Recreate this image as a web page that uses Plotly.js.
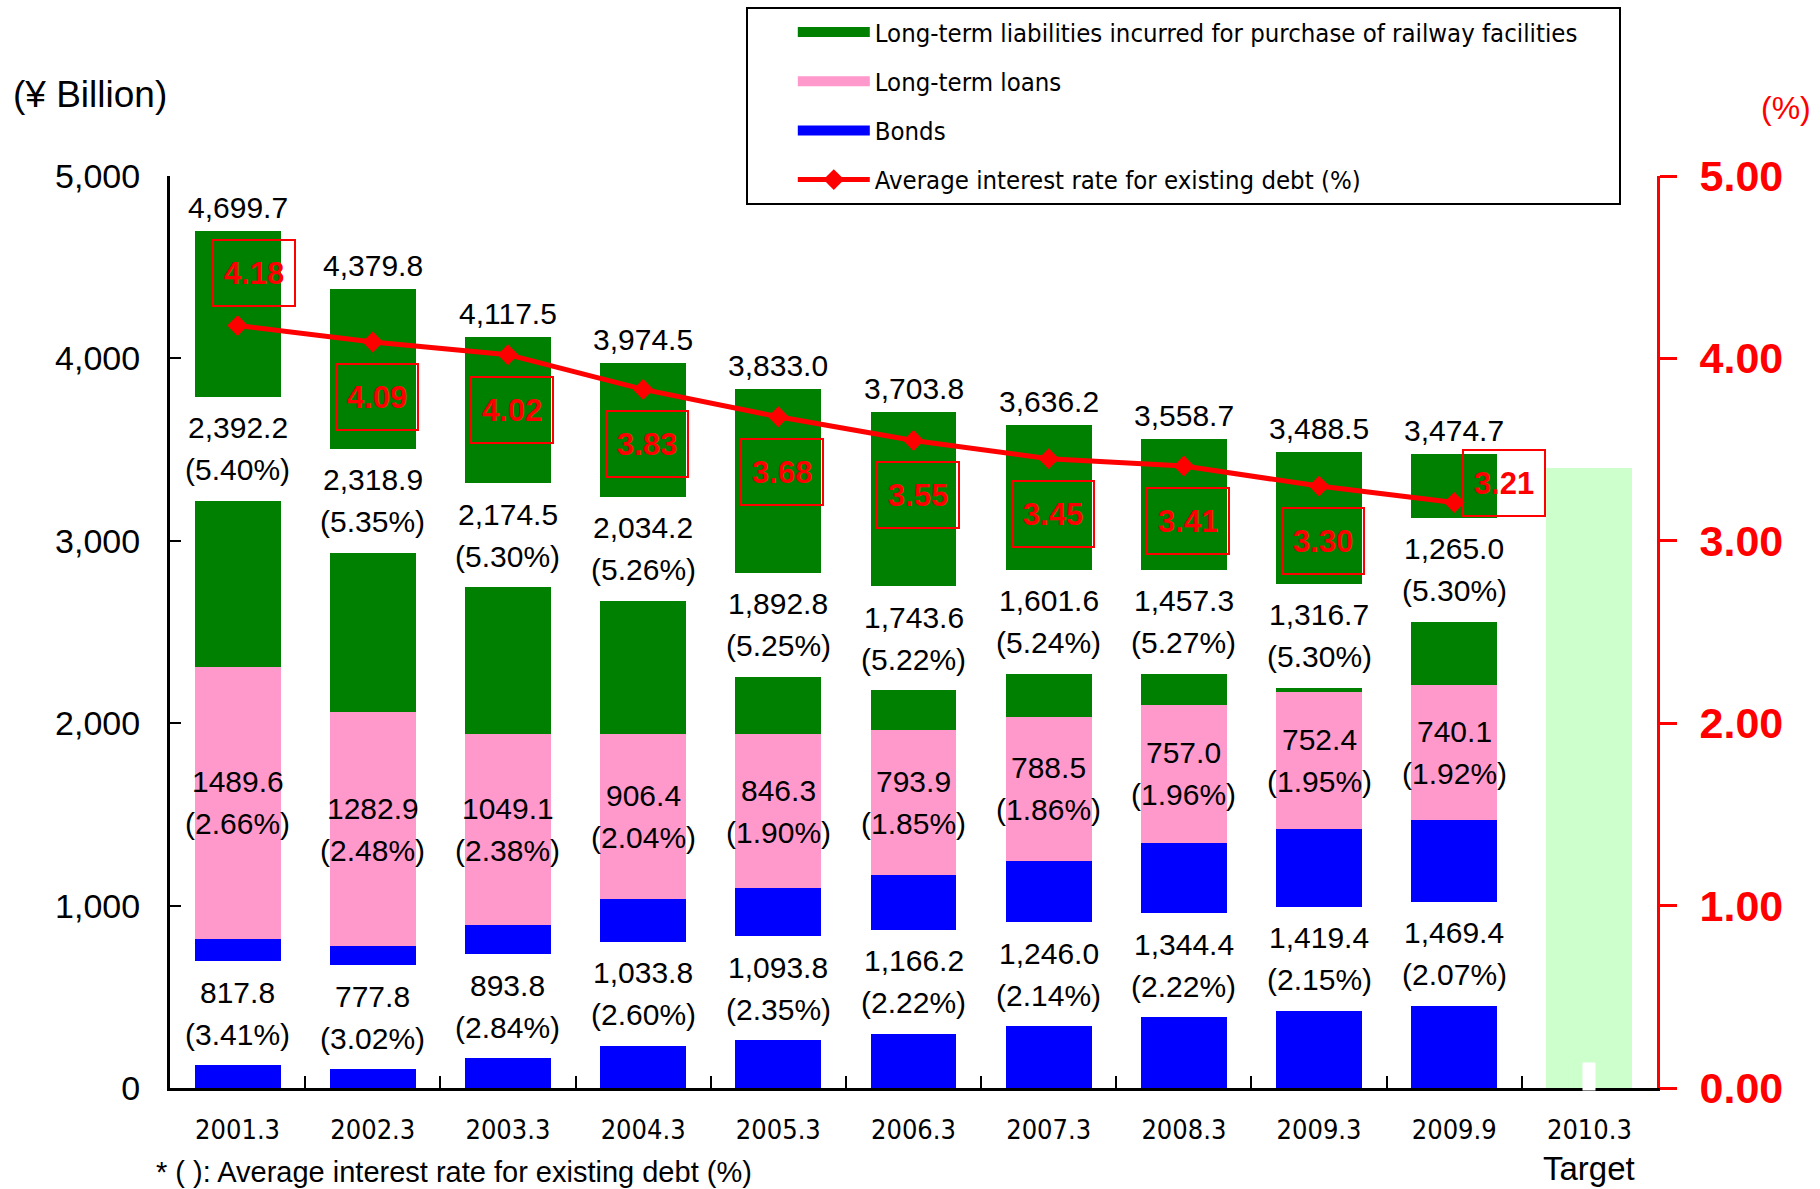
<!DOCTYPE html>
<html>
<head>
<meta charset="utf-8">
<script src="https://cdn.plot.ly/plotly-3.0.1.min.js"></script>
<style>
  html, body { margin: 0; padding: 0; background: #fff; }
  #chart { width: 1820px; height: 1189px; }
</style>
</head>
<body>
<div id="chart"></div>
<script>
// values in ¥ billion, rates in %
var periods = ['2001.3', '2002.3', '2003.3', '2004.3', '2005.3', '2006.3', '2007.3', '2008.3', '2009.3', '2009.9'];
var targetPeriod = '2010.3';
var targetValue = 3400;

var bonds = [817.8, 777.8, 893.8, 1033.8, 1093.8, 1166.2, 1246.0, 1344.4, 1419.4, 1469.4];
var bondRates = [3.41, 3.02, 2.84, 2.60, 2.35, 2.22, 2.14, 2.22, 2.15, 2.07];
var loans = [1489.6, 1282.9, 1049.1, 906.4, 846.3, 793.9, 788.5, 757.0, 752.4, 740.1];
var loanRates = [2.66, 2.48, 2.38, 2.04, 1.90, 1.85, 1.86, 1.96, 1.95, 1.92];
var liabilities = [2392.2, 2318.9, 2174.5, 2034.2, 1892.8, 1743.6, 1601.6, 1457.3, 1316.7, 1265.0];
var liabilityRates = [5.40, 5.35, 5.30, 5.26, 5.25, 5.22, 5.24, 5.27, 5.30, 5.30];
var totals = [4699.7, 4379.8, 4117.5, 3974.5, 3833.0, 3703.8, 3636.2, 3558.7, 3488.5, 3474.7];
var avgRates = [4.18, 4.09, 4.02, 3.83, 3.68, 3.55, 3.45, 3.41, 3.30, 3.21];

// some liability labels were pushed down (px) to clear the rate boxes
var liabLabelDrop = [0, 0, 0, 0, 63, 67, 51, 50, 64, 0];

var sans = 'Liberation Sans, Arial, sans-serif';
var narrow = '"Liberation Sans Narrow", "Arial Narrow", "DejaVu Sans Condensed", sans-serif';
var labelFont = {family: sans, size: 30, color: '#000'};

function withComma(v) {
  return v.toLocaleString('en-US', {minimumFractionDigits: 1, maximumFractionDigits: 1});
}
function pct(r) {
  return '(' + r.toFixed(2) + '%)';
}

var hidden = {hoverinfo: 'skip', showlegend: false};

var bondTrace = Object.assign({type: 'bar', x: periods, y: bonds, marker: {color: '#0000ff'}}, hidden);
var loanTrace = Object.assign({type: 'bar', x: periods, y: loans, marker: {color: '#ff99cc'}}, hidden);
var liabTrace = Object.assign({type: 'bar', x: periods, y: liabilities, marker: {color: '#008000'}}, hidden);
var targetTrace = Object.assign({type: 'bar', x: [targetPeriod], y: [targetValue], marker: {color: '#ccffcc'}}, hidden);

var rateTrace = Object.assign({
  type: 'scatter',
  mode: 'lines+markers',
  x: periods, y: avgRates,
  yaxis: 'y2',
  line: {color: '#ff0000', width: 5},
  marker: {symbol: 'diamond', size: 16, color: '#ff0000'}
}, hidden);

// legend entries only
function legendEntry(name, color, withMarker) {
  var t = {
    type: 'scatter', x: [null], y: [null], name: name, legendgroup: name,
    mode: withMarker ? 'lines+markers' : 'lines',
    line: {color: color, width: withMarker ? 5 : 15},
    hoverinfo: 'skip'
  };
  if (withMarker) t.marker = {symbol: 'diamond', size: 16, color: color};
  return t;
}

var data = [
  bondTrace, loanTrace, liabTrace, targetTrace, rateTrace,
  legendEntry('Long-term liabilities incurred for purchase of railway facilities\u00a0\u00a0\u00a0\u00a0\u00a0', '#008000'),
  legendEntry('Long-term loans', '#ff99cc'),
  legendEntry('Bonds', '#0000ff'),
  legendEntry('Average interest rate for existing debt (%)', '#ff0000', true)
];

var annotations = [];

// category index is used as the annotation x position
function whiteBox(i, y, shift) {
  annotations.push({x: i, y: y, yshift: shift, text: ' ', showarrow: false,
    width: 100, height: 104, bgcolor: '#ffffff', borderpad: 0, borderwidth: 0});
}
function twoLines(i, y, shift, top, bottom) {
  annotations.push({x: i, y: y, yshift: shift + 21, text: top, showarrow: false, font: labelFont});
  annotations.push({x: i, y: y, yshift: shift - 21, text: bottom, showarrow: false, font: labelFont});
}

for (var i = 0; i < periods.length; i++) {
  var stackTop = bonds[i] + loans[i] + liabilities[i];

  annotations.push({x: i, y: stackTop, yanchor: 'bottom', yshift: 5, text: withComma(totals[i]),
    showarrow: false, font: labelFont});

  var liabMid = bonds[i] + loans[i] + liabilities[i] / 2;
  whiteBox(i, liabMid, -liabLabelDrop[i]);
  twoLines(i, liabMid, -liabLabelDrop[i], withComma(liabilities[i]), pct(liabilityRates[i]));

  twoLines(i, bonds[i] + loans[i] / 2, 0, loans[i].toFixed(1), pct(loanRates[i]));

  whiteBox(i, bonds[i] / 2, 0);
  twoLines(i, bonds[i] / 2, 0, withComma(bonds[i]), pct(bondRates[i]));
}

// boxed average-rate labels
for (var j = 0; j < periods.length; j++) {
  var xs = 4, ys = -55;
  if (j === 0) { xs = 16; ys = 53; }
  if (j === periods.length - 1) { xs = 50; ys = 20; }
  annotations.push({
    x: j, y: avgRates[j], yref: 'y2', xshift: xs, yshift: ys,
    text: avgRates[j].toFixed(2), showarrow: false,
    font: {family: sans, size: 31, color: '#ff0000', weight: 'bold'},
    bordercolor: '#ff0000', borderwidth: 2, borderpad: 1, width: 78, height: 62
  });
}

var targetIndex = periods.length;

// small white notch at the foot of the target bar
annotations.push({x: targetIndex, y: 0, yanchor: 'bottom', yshift: -3, text: ' ', showarrow: false,
  width: 12, height: 27, bgcolor: '#ffffff', borderpad: 0});

annotations.push({x: targetIndex, xref: 'x', y: -0.088, yref: 'paper', yanchor: 'middle',
  text: 'Target', showarrow: false, font: {family: sans, size: 33, color: '#000'}});

annotations.push({x: -0.0538, y: 1.0898, xref: 'paper', yref: 'paper', xanchor: 'center', yanchor: 'middle',
  text: '(¥ Billion)', showarrow: false, font: {family: sans, size: 37, color: '#000'}});

annotations.push({x: 1.0868, y: 1.0746, xref: 'paper', yref: 'paper', xanchor: 'center', yanchor: 'middle',
  text: '(%)', showarrow: false, font: {family: sans, size: 32, color: '#ff0000'}});

annotations.push({x: -0.0108, y: -0.0926, xref: 'paper', yref: 'paper', xanchor: 'left', yanchor: 'middle',
  text: '* ( ): Average interest rate for existing debt (%)', showarrow: false,
  font: {family: sans, size: 29, color: '#000'}});

var layout = {
  width: 1820,
  height: 1189,
  margin: {l: 170, r: 163, t: 176, b: 101, autoexpand: false},
  paper_bgcolor: '#ffffff',
  plot_bgcolor: '#ffffff',
  barmode: 'stack',
  bargap: 0.364,
  font: {family: sans, color: '#000'},
  xaxis: {
    type: 'category',
    categoryorder: 'array',
    categoryarray: periods.concat([targetPeriod]),
    range: [-0.5, 10.5],
    showline: true, linecolor: '#000', linewidth: 3,
    ticks: 'inside', tickson: 'boundaries', ticklen: 12, tickwidth: 2, tickcolor: '#000',
    tickfont: {family: narrow, size: 27, color: '#000'},
    ticklabelstandoff: 16,
    showgrid: false, zeroline: false, fixedrange: true
  },
  yaxis: {
    range: [0, 5000], dtick: 1000, tickformat: ',d',
    showline: true, linecolor: '#000', linewidth: 3,
    ticks: 'inside', ticklen: 11, tickwidth: 2, tickcolor: '#000',
    tickfont: {family: sans, size: 34, color: '#000'},
    ticklabelstandoff: 20,
    showgrid: false, zeroline: false, fixedrange: true
  },
  yaxis2: {
    overlaying: 'y', side: 'right',
    range: [0, 5], dtick: 1, tickformat: '.2f',
    showline: true, linecolor: '#ff0000', linewidth: 3,
    ticks: 'outside', ticklen: 17, tickwidth: 3, tickcolor: '#ff0000',
    tickfont: {family: sans, size: 43, color: '#ff0000', weight: 'bold'},
    ticklabelstandoff: 14,
    showgrid: false, zeroline: false, fixedrange: true
  },
  showlegend: true,
  legend: {
    x: 0.3874, y: 1.1853, xanchor: 'left', yanchor: 'top',
    bgcolor: '#ffffff', bordercolor: '#000', borderwidth: 2,
    font: {family: narrow, size: 25.5, color: '#000'},
    title: {text: '\u00a0\u00a0\u00a0\u00a0\u00a0', side: 'left', font: {family: sans, size: 25}},
    itemwidth: 72, tracegroupgap: 13, traceorder: 'grouped'
  },
  annotations: annotations
};

Plotly.newPlot('chart', data, layout, {displayModeBar: false, staticPlot: true});
</script>
</body>
</html>
